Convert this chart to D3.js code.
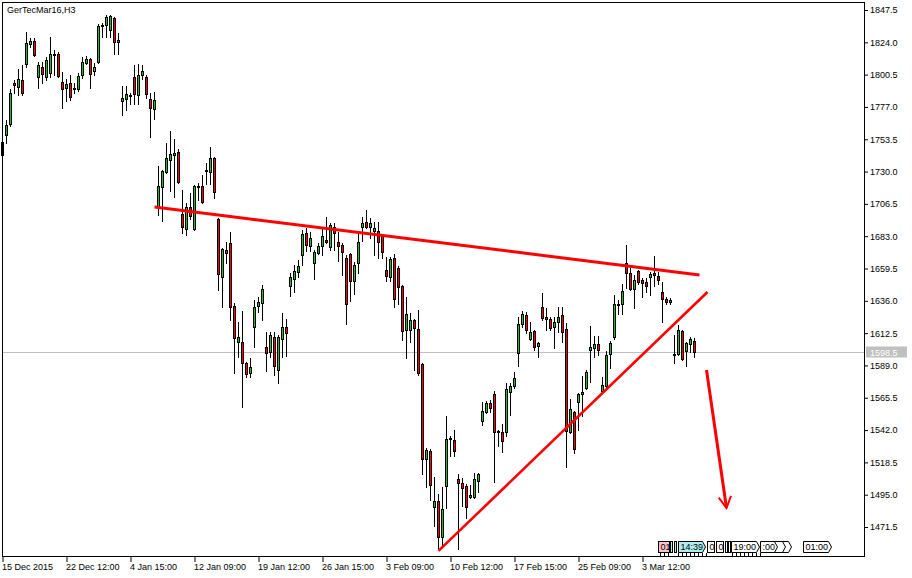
<!DOCTYPE html>
<html><head><meta charset="utf-8">
<script src="https://cdn.jsdelivr.net/npm/d3@7"></script>
<style>body{margin:0;background:#fff}svg{display:block}</style>
</head><body>
<svg id="c" width="912" height="578"></svg>
<script>
const chartTitle = "GerTecMar16,H3";
const opens = [1742.1,1756.6,1764.6,1794.4,1791.5,1796.6,1808.3,1822.8,1825.0,1798.8,1806.1,1798.8,1801.7,1815.2,1815.5,1795.2,1790.8,1794.4,1790.1,1790.1,1800.3,1809.0,1811.9,1803.2,1809.7,1835.9,1836.6,1833.0,1841.7,1824.3,1781.3,1782.8,1785.0,1798.8,1785.7,1800.3,1798.8,1782.8,1775.5,1704.3,1718.8,1729.7,1738.4,1742.1,1744.3,1699.2,1688.3,1704.3,1688.3,1719.2,1719.5,1730.8,1729.7,1739.9,1695.5,1653.3,1673.0,1678.1,1632.3,1606.1,1606.1,1590.8,1583.5,1617.0,1632.3,1634.4,1602.4,1598.8,1609.7,1585.7,1608.3,1617.0,1646.8,1651.9,1657.0,1669.3,1685.3,1675.9,1663.5,1670.8,1675.9,1680.3,1675.2,1689.7,1678.8,1676.6,1667.2,1670.1,1650.4,1663.5,1689.7,1693.3,1689.7,1686.8,1686.8,1683.2,1658.4,1653.3,1667.2,1659.9,1646.8,1614.8,1614.8,1622.1,1615.5,1590.1,1521.0,1526.8,1486.1,1490.4,1464.3,1501.3,1535.9,1534.8,1506.4,1503.5,1501.3,1493.3,1493.3,1505.0,1548.6,1555.2,1561.7,1568.3,1541.3,1540.6,1540.6,1569.7,1574.1,1598.1,1619.2,1625.7,1608.3,1614.1,1603.2,1631.5,1624.3,1622.8,1617.0,1620.6,1625.7,1615.5,1540.6,1555.2,1562.4,1568.3,1572.6,1600.3,1601.7,1604.6,1570.4,1574.1,1597.3,1609.7,1633.3,1633.7,1663.5,1656.3,1644.6,1657.7,1651.2,1649.7,1653.3,1656.3,1654.1,1642.4,1637.3,1635.2,1597.3,1597.3,1614.1,1599.5,1604.6,1606.8];
const highs = [1755.9,1767.5,1790.1,1796.6,1804.6,1807.5,1831.5,1827.2,1827.2,1809.7,1809.7,1813.3,1827.9,1818.4,1817.0,1802.4,1797.3,1800.3,1794.4,1801.7,1813.3,1814.1,1812.6,1809.0,1837.3,1838.1,1843.9,1843.9,1842.4,1830.8,1792.3,1792.3,1787.2,1807.5,1808.3,1807.5,1800.3,1787.2,1787.9,1734.1,1731.2,1750.8,1759.5,1753.7,1746.4,1716.6,1707.2,1714.4,1720.3,1721.7,1727.5,1736.3,1747.9,1740.6,1696.3,1674.4,1678.8,1686.1,1634.4,1620.6,1628.6,1591.5,1594.4,1636.6,1638.8,1647.5,1613.3,1613.3,1613.3,1611.2,1627.2,1622.8,1656.3,1662.1,1665.7,1687.5,1689.0,1686.1,1673.0,1678.1,1689.7,1697.0,1692.6,1692.6,1686.1,1678.1,1669.3,1670.8,1664.3,1685.3,1697.0,1702.1,1696.3,1693.3,1693.3,1683.9,1667.9,1667.9,1670.1,1661.3,1647.5,1638.8,1627.2,1622.8,1629.3,1590.8,1529.0,1528.3,1507.9,1495.5,1500.6,1552.3,1537.7,1542.1,1510.1,1507.2,1502.8,1502.1,1510.8,1510.8,1562.4,1563.2,1563.9,1570.4,1542.1,1546.4,1576.3,1576.3,1584.3,1624.3,1628.6,1627.9,1620.6,1614.8,1606.1,1641.7,1630.8,1624.3,1624.3,1631.5,1631.5,1619.9,1564.6,1555.9,1569.0,1581.3,1585.7,1617.7,1610.4,1610.4,1580.6,1599.5,1606.8,1640.3,1636.6,1648.3,1676.6,1659.9,1654.8,1658.4,1652.6,1652.6,1657.0,1668.6,1657.0,1649.7,1638.8,1638.1,1611.2,1618.4,1614.8,1606.1,1609.7,1609.0];
const lows = [1737.0,1750.8,1763.2,1787.2,1785.7,1785.7,1806.1,1820.6,1814.1,1790.8,1794.4,1796.6,1798.8,1800.3,1798.8,1776.3,1781.3,1782.1,1787.2,1788.6,1798.1,1808.3,1790.8,1800.3,1809.0,1827.9,1827.9,1827.9,1815.5,1815.5,1771.2,1774.8,1779.2,1779.2,1779.2,1797.3,1783.5,1755.2,1768.3,1698.4,1694.1,1729.0,1715.9,1711.5,1721.7,1685.3,1683.9,1695.5,1687.5,1709.3,1707.2,1721.0,1721.0,1710.8,1643.9,1631.5,1663.5,1622.1,1583.5,1595.2,1558.8,1580.6,1580.6,1602.4,1627.9,1622.1,1585.0,1595.2,1582.1,1576.3,1595.2,1595.9,1639.5,1642.4,1653.3,1662.1,1672.3,1672.3,1651.9,1670.1,1669.3,1678.1,1673.0,1673.0,1665.0,1654.8,1619.2,1635.9,1641.0,1656.3,1679.5,1689.0,1681.7,1669.3,1667.2,1667.2,1650.4,1650.4,1631.5,1633.7,1607.5,1594.4,1606.1,1585.7,1582.1,1510.1,1500.6,1491.2,1472.3,1456.3,1457.0,1485.3,1523.2,1523.2,1455.5,1486.8,1478.1,1492.6,1492.6,1497.0,1545.7,1554.4,1555.2,1504.3,1530.4,1526.1,1537.7,1553.0,1572.6,1588.6,1617.0,1612.6,1607.5,1600.3,1595.2,1622.1,1614.8,1614.8,1601.7,1613.3,1606.1,1515.2,1539.9,1525.3,1542.1,1552.3,1571.9,1577.0,1595.2,1596.6,1569.7,1573.3,1587.2,1608.3,1626.4,1626.4,1645.3,1643.9,1630.8,1648.3,1638.8,1642.4,1640.3,1646.8,1648.3,1620.6,1633.7,1633.7,1590.8,1596.6,1593.0,1588.6,1598.8,1595.2];
const closes = [1751.5,1763.9,1787.2,1793.0,1797.3,1787.2,1823.5,1825.0,1814.8,1807.5,1801.0,1811.2,1815.5,1815.5,1799.5,1790.1,1793.7,1784.3,1790.8,1799.5,1809.7,1811.9,1801.0,1806.1,1835.9,1836.6,1842.4,1843.2,1824.3,1825.7,1783.5,1786.4,1785.7,1786.4,1800.3,1803.2,1786.4,1776.3,1782.1,1719.5,1730.4,1739.9,1742.8,1743.5,1722.4,1689.7,1704.3,1697.7,1719.5,1719.5,1707.9,1731.2,1739.9,1715.2,1655.5,1673.7,1670.8,1631.5,1609.0,1609.7,1590.8,1582.8,1587.9,1631.5,1635.2,1644.6,1598.1,1611.2,1588.6,1609.7,1617.0,1612.6,1653.3,1657.7,1661.3,1684.6,1676.6,1681.7,1671.5,1675.9,1683.2,1678.8,1691.2,1685.3,1675.9,1671.5,1633.7,1650.4,1662.1,1678.8,1692.6,1689.7,1692.6,1689.0,1678.8,1671.5,1654.1,1666.4,1637.3,1646.1,1614.1,1626.4,1622.1,1616.3,1583.5,1521.0,1527.5,1502.1,1490.4,1464.3,1484.6,1535.5,1536.3,1526.8,1503.5,1499.9,1486.1,1494.8,1506.4,1510.1,1555.9,1561.7,1558.1,1540.6,1541.0,1534.1,1571.9,1574.1,1579.9,1619.2,1626.4,1614.8,1613.3,1602.4,1605.3,1623.5,1622.8,1616.3,1620.6,1624.3,1613.3,1541.3,1557.3,1528.3,1568.3,1569.7,1584.3,1602.4,1604.6,1600.3,1574.8,1596.6,1605.3,1633.7,1633.7,1643.2,1656.3,1644.6,1651.2,1649.7,1649.0,1646.8,1655.5,1654.8,1651.2,1637.3,1635.2,1636.6,1596.9,1614.8,1593.7,1605.3,1608.3,1598.5];

const xTickBars = [0,16,32,48,64,80,96,112,128,144,160];
const xTickLabels = ["15 Dec 2015","22 Dec 12:00","4 Jan 15:00","12 Jan 09:00","19 Jan 12:00","26 Jan 15:00","3 Feb 09:00","10 Feb 12:00","17 Feb 15:00","25 Feb 09:00","3 Mar 12:00"];
const yTickValues = [1847.5,1824.0,1800.5,1777.0,1753.5,1730.0,1706.5,1683.0,1659.5,1636.0,1612.5,1589.0,1565.5,1542.0,1518.5,1495.0,1471.5];
const bidPrice = 1598.5;
// drawn objects: [bar index, price]
const resistanceLine = [[38, 1704.2],[174.25, 1654.8]];
const supportLine = [[109, 1454.1],[176.25, 1642.4]];
const forecastArrow = [[176, 1585.7],[181, 1485.3]];

const FONT = "'Liberation Sans', Arial, sans-serif";
const svg = d3.select("#c");
const x = d3.scaleLinear().domain([0, 173]).range([2.5, 694.5]);
const y = d3.scaleLinear().domain([1471.5, 1847.5]).range([527, 10]);
const py = v => Math.round(y(v));

svg.append("rect").attr("width",912).attr("height",578).attr("fill","#fff");

// bid line
const by = py(bidPrice) + 0.5;
svg.append("line").attr("x1",2).attr("x2",864).attr("y1",by).attr("y2",by)
  .attr("stroke","#c0c0c0").attr("stroke-width",1);

// candles
const bars = d3.range(opens.length).map(i => ({i, o:opens[i], h:highs[i], l:lows[i], c:closes[i]}));
const g = svg.append("g").attr("shape-rendering","crispEdges");
g.selectAll("line.w").data(bars).join("line").attr("class","w")
  .attr("x1", d => x(d.i)).attr("x2", d => x(d.i))
  .attr("y1", d => py(d.h)).attr("y2", d => py(d.l) + 1)
  .attr("stroke","#000").attr("stroke-width",1);
g.selectAll("rect.b").data(bars).join("rect").attr("class","b")
  .attr("x", d => x(d.i) - 1)
  .attr("y", d => py(Math.max(d.o,d.c)) + 0.5)
  .attr("width", 2)
  .attr("height", d => Math.max(py(Math.min(d.o,d.c)) - py(Math.max(d.o,d.c)), 1))
  .attr("fill", d => d.c > d.o ? "#22c022" : (d.c < d.o ? "#ff0000" : "#000"))
  .attr("stroke","#000").attr("stroke-width",1);

// trend lines
const line = d3.line().x(d => x(d[0])).y(d => y(d[1]));
svg.append("path").attr("d", line(resistanceLine)).attr("stroke","#ff0000").attr("stroke-width",3).attr("fill","none");
svg.append("path").attr("d", line(supportLine)).attr("stroke","#ff0000").attr("stroke-width",2.6).attr("fill","none");
svg.append("path").attr("d", line(forecastArrow)).attr("stroke","#ff0000").attr("stroke-width",3).attr("fill","none");
{
  const [a,b] = forecastArrow;
  const x1 = x(a[0]), y1 = y(a[1]), x2 = x(b[0]), y2 = y(b[1]);
  const ang = Math.atan2(y2-y1, x2-x1);
  const L = 13, s = 0.5;
  const p1 = [x2 - L*Math.cos(ang - s), y2 - L*Math.sin(ang - s)];
  const p2 = [x2 - L*Math.cos(ang + s), y2 - L*Math.sin(ang + s)];
  svg.append("path").attr("d", `M${p1}L${x2},${y2}L${p2}`).attr("stroke","#ff0000")
    .attr("stroke-width",2).attr("fill","none");
}

// frame
svg.append("rect").attr("x",2.5).attr("y",2.5).attr("width",862).attr("height",554)
  .attr("fill","none").attr("stroke","#000").attr("stroke-width",1);

// x axis
const xa = svg.append("g").attr("transform","translate(0,556)")
  .call(d3.axisBottom(x).tickValues(xTickBars).tickSize(6).tickSizeOuter(0)
    .tickFormat((d,i) => xTickLabels[i]));
xa.select(".domain").remove();
xa.selectAll("line").attr("stroke","#000");
xa.selectAll("text").attr("text-anchor","start").attr("dx",-1).attr("y",8)
  .attr("dy","0.71em").attr("fill","#000").style("font-family",FONT).style("font-size","9px");

// y axis
const ya = svg.append("g").attr("transform","translate(864,0)")
  .call(d3.axisRight(y).tickValues(yTickValues).tickSize(4).tickFormat(d3.format(".1f")));
ya.select(".domain").remove();
ya.selectAll("line").attr("stroke","#000");
ya.selectAll("text").attr("x",6).attr("fill","#000").style("font-family",FONT).style("font-size","9px");

// bid label
svg.append("rect").attr("x",866).attr("y",by-6).attr("width",41).attr("height",11).attr("fill","#c0c0c0");
svg.append("text").attr("x",870).attr("y",by).attr("dy","0.35em").attr("fill","#fff")
  .style("font-family",FONT).style("font-size","9px").text(d3.format(".1f")(bidPrice));

// title
svg.append("text").attr("x",7).attr("y",13).attr("fill","#000")
  .style("font-family",FONT).style("font-size","9px").text(chartTitle);

// status tags at bottom right
const tagTexts = ["01","14:39","0","0","19:00",":00","01:00"];
const tg = svg.append("g").attr("shape-rendering","crispEdges").style("font-family",FONT).style("font-size","9px");
function box(x0, w, fill, txt, arrow){
  const y0 = 541.5, h = 11;
  const p = arrow ? `M${x0},${y0}H${x0+w-3}L${x0+w},${y0+h/2}L${x0+w-3},${y0+h}H${x0}Z`
                  : `M${x0},${y0}H${x0+w}V${y0+h}H${x0}Z`;
  tg.append("path").attr("d",p).attr("fill",fill).attr("stroke","#000").attr("stroke-width",1)
    .attr("shape-rendering", arrow ? "auto" : "crispEdges");
  if (txt) tg.append("text").attr("x",x0+2).attr("y",y0+h/2).attr("dy","0.35em").attr("fill","#000").text(txt);
}
box(658.5, 11, "#ffc0cb", tagTexts[0], false);
box(670.5, 2, "#afeeee", "", false);
box(674.5, 2, "#afeeee", "", false);
box(678.5, 27, "#afeeee", tagTexts[1], true);
box(707.5, 7, "#fff", tagTexts[2], false);
box(716.5, 7, "#fff", tagTexts[3], false);
box(725.5, 2, "#fff", "", false);
box(728.5, 2, "#fff", "", false);
box(778.5, 13, "#fff", "", true);
box(772.5, 13, "#fff", "", true);
box(760.5, 17, "#fff", tagTexts[5], true);
box(731.5, 28, "#fff", tagTexts[4], true);
box(803.5, 28, "#fff", tagTexts[6], true);
// small scale dashes under tags
[[678,706],[732,760],[660,668]].forEach(([a,b]) => {
  for (let xx=a; xx<=b; xx+=4) tg.append("line").attr("x1",xx+0.5).attr("x2",xx+0.5).attr("y1",553).attr("y2",556).attr("stroke","#000");
});
</script>
</body></html>
